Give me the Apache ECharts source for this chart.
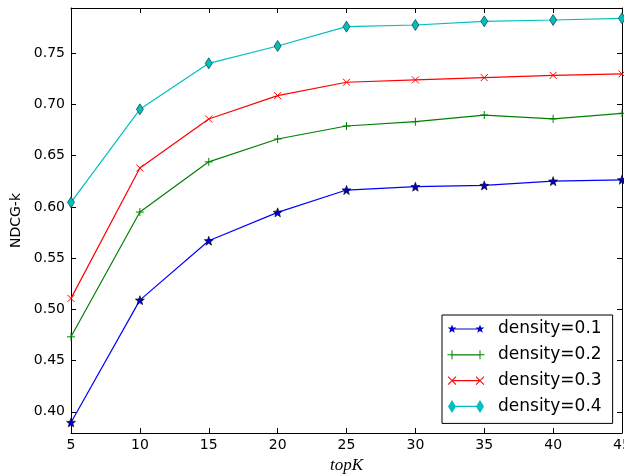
<!DOCTYPE html>
<html>
<head>
<meta charset="utf-8">
<script src="https://cdn.jsdelivr.net/npm/echarts@6/dist/echarts.min.js"></script>
<style>
html,body{margin:0;padding:0;background:#fff;}
#chart{width:624px;height:476px;}
</style>
</head>
<body>
<div id="chart"></div>
<script>
// ---- data ----
var topK = [5, 10, 15, 20, 25, 30, 35, 40, 45];
var seriesNames = ['density=0.1', 'density=0.2', 'density=0.3', 'density=0.4'];
var density01 = [0.3896, 0.509, 0.567, 0.5947, 0.6165, 0.6198, 0.621, 0.6252, 0.6265];
var density02 = [0.4732, 0.595, 0.644, 0.6663, 0.679, 0.6832, 0.6897, 0.686, 0.6914];
var density03 = [0.5107, 0.638, 0.6858, 0.7086, 0.7217, 0.724, 0.7262, 0.7285, 0.7298];
var density04 = [0.6045, 0.6953, 0.7402, 0.7571, 0.776, 0.7776, 0.7812, 0.7825, 0.7841];
var yTicks = [0.40, 0.45, 0.50, 0.55, 0.60, 0.65, 0.70, 0.75];
var xTicks = [5, 10, 15, 20, 25, 30, 35, 40, 45];

// ---- styling helpers ----
var colors = ['#0000ff', '#008000', '#ff0000', '#00bfbf'];
var yMin = 0.3793, yMax = 0.7942;

function f(n){ return (Math.round(n*100)/100).toString(); }
function starPath(cx, cy, R, r){
  var s = '';
  for (var k = 0; k < 10; k++) {
    var a = (-90 + k*36) * Math.PI/180;
    var rad = (k % 2 === 0) ? R : r;
    s += (k === 0 ? 'M' : 'L') + f(cx + rad*Math.cos(a)) + ' ' + f(cy + rad*Math.sin(a));
  }
  return s + 'Z';
}
function rect(x0, y0, x1, y1){
  return 'M'+f(x0)+' '+f(y0)+'L'+f(x1)+' '+f(y0)+'L'+f(x1)+' '+f(y1)+'L'+f(x0)+' '+f(y1)+'Z';
}
function plusFilled(cx, cy, h){
  return rect(cx-h, cy-0.5, cx+h, cy+0.5) + rect(cx-0.5, cy-h, cx+0.5, cy+h);
}
function diag(x0, y0, x1, y1, t){
  var dx = x1-x0, dy = y1-y0, L = Math.sqrt(dx*dx+dy*dy);
  var nx = -dy/L*t, ny = dx/L*t;
  var p = [[x0-nx, y0-ny],[x1-nx, y1-ny],[x1+nx, y1+ny],[x0+nx, y0+ny]];
  var area = 0;
  for (var i=0;i<4;i++){ var a=p[i], b=p[(i+1)%4]; area += a[0]*b[1]-b[0]*a[1]; }
  if (area < 0) p.reverse();
  return 'M'+p.map(function(q){return f(q[0])+' '+f(q[1]);}).join('L')+'Z';
}
function xFilled(cx, cy, h){
  return diag(cx-h, cy-h, cx+h, cy+h, 0.5) + diag(cx-h, cy+h, cx+h, cy-h, 0.5);
}
function diamondPath(cx, cy, w, h){
  return 'M'+f(cx)+' '+f(cy-h)+'L'+f(cx+w)+' '+f(cy)+'L'+f(cx)+' '+f(cy+h)+'L'+f(cx-w)+' '+f(cy)+'Z';
}
var IW = 38, IH = 14, c1 = 5, c2 = 33, cy = 7;
var pad = 'M0 0M' + IW + ' ' + IH;
var lineR = rect(c1, 6.4, c2, 7.6);
var legendIcons = [
  'path://' + pad + lineR + starPath(c1, cy, 4.6, 1.9) + starPath(c2, cy, 4.6, 1.9),
  'path://' + pad + lineR + plusFilled(c1, cy, 4.5) + plusFilled(c2, cy, 4.5),
  'path://' + pad + lineR + xFilled(c1, cy, 4) + xFilled(c2, cy, 4),
  'path://' + pad + lineR + diamondPath(c1, cy, 4, 6.5) + diamondPath(c2, cy, 4, 6.5)
];
var seriesSymbols = [
  'path://' + starPath(5, 5, 5, 2.1),
  'path://M0 4L8 4M4 0L4 8',
  'path://M0 0L7 7M0 7L7 0',
  'diamond'
];
var symbolSizes = [[9, 9], 8, 7, [7, 11]];
var itemStyles = [
  {color: '#0000cc', borderColor: '#000000', borderWidth: 0.6},
  {color: '#008000', borderColor: '#008000', borderWidth: 1},
  {color: '#ff0000', borderColor: '#ff0000', borderWidth: 1},
  {color: '#00bfbf', borderColor: '#0b3b3b', borderWidth: 0.7}
];

var allValues = [density01, density02, density03, density04];
var series = allValues.map(function(vals, i){
  return {
    name: seriesNames[i],
    type: 'line',
    xAxisIndex: 0,
    yAxisIndex: 0,
    data: topK.map(function(x, j){ return [x, vals[j]]; }),
    symbol: seriesSymbols[i],
    symbolSize: symbolSizes[i],
    showSymbol: true,
    showAllSymbol: true,
    lineStyle: {color: colors[i], width: 1.2},
    itemStyle: itemStyles[i],
    emphasis: {disabled: true},
    z: 2 + i
  };
});

var axisBlack = {color: '#000000', width: 1};
var option = {
  animation: false,
  backgroundColor: '#ffffff',
  grid: {left: 71, right: 2, top: 8, bottom: 43, containLabel: false, outerBoundsMode: 'none'},
  legend: {
    orient: 'vertical',
    left: 442,
    top: 315,
    padding: [4, 11, 7, 5],
    itemWidth: IW,
    itemHeight: IH,
    itemGap: 5.8,
    backgroundColor: '#ffffff',
    borderColor: '#000000',
    borderWidth: 1,
    borderRadius: 0,
    symbolKeepAspect: false,
    selectedMode: false,
    textStyle: {fontFamily: 'DejaVu Sans', fontSize: 17, color: '#000', lineHeight: 20, padding: [0, 0, 0, 8]},
    data: seriesNames.map(function(n, i){
      return {name: n, icon: legendIcons[i], itemStyle: {color: colors[i] === '#0000ff' ? '#0000cc' : colors[i], borderWidth: 0}};
    })
  },
  xAxis: [{
    type: 'value',
    position: 'bottom',
    min: 5, max: 45, interval: 5,
    name: 'topK',
    nameLocation: 'middle',
    nameGap: 24,
    nameTextStyle: {fontFamily: 'Liberation Serif', fontStyle: 'italic', fontSize: 17, color: '#000'},
    axisLine: {show: true, onZero: false, lineStyle: axisBlack},
    axisTick: {show: true, inside: true, length: 5, lineStyle: axisBlack},
    axisLabel: {show: true, fontFamily: 'DejaVu Sans', fontSize: 14, color: '#000', margin: 5,
      showMinLabel: true, showMaxLabel: true, hideOverlap: false, customValues: xTicks},
    splitLine: {show: false}
  }, {
    type: 'value',
    position: 'top',
    min: 5, max: 45, interval: 5,
    axisLine: {show: true, onZero: false, lineStyle: axisBlack},
    axisTick: {show: true, inside: true, length: 5, lineStyle: axisBlack},
    axisLabel: {show: false},
    splitLine: {show: false}
  }],
  yAxis: [{
    type: 'value',
    position: 'left',
    min: yMin, max: yMax,
    name: 'NDCG-k',
    nameLocation: 'middle',
    nameGap: 46,
    nameRotate: 90,
    nameTextStyle: {fontFamily: 'DejaVu Sans', fontSize: 14, color: '#000'},
    axisLine: {show: true, onZero: false, lineStyle: axisBlack},
    axisTick: {show: true, inside: true, length: 5, lineStyle: axisBlack, customValues: yTicks},
    axisLabel: {show: true, fontFamily: 'DejaVu Sans', fontSize: 14, color: '#000', margin: 6,
      customValues: yTicks, formatter: function(v){ return v.toFixed(2); }},
    splitLine: {show: false}
  }, {
    type: 'value',
    position: 'right',
    min: yMin, max: yMax,
    axisLine: {show: true, onZero: false, lineStyle: axisBlack},
    axisTick: {show: true, inside: true, length: 5, lineStyle: axisBlack, customValues: yTicks},
    axisLabel: {show: false},
    splitLine: {show: false}
  }],
  series: series
};

var chart = echarts.init(document.getElementById('chart'), null, {renderer: 'canvas'});
chart.setOption(option);
</script>
</body>
</html>
